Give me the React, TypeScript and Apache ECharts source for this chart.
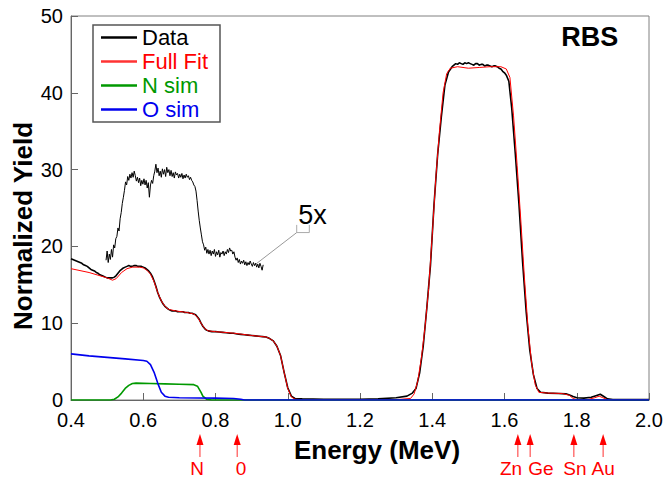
import React, { useEffect, useRef } from 'react';
import * as echarts from 'echarts';

// ---- Data (measured spectrum) ----
const dataE = [0.40,0.405,0.41,0.415,0.42,0.425,0.43,0.435,0.44,0.445,0.45,0.455,0.46,0.465,0.47,0.475,0.48,0.485,0.49,0.495,0.50,0.505,0.51,0.515,0.52,0.525,0.53,0.535,0.54,0.545,0.55,0.555,0.56,0.565,0.57,0.575,0.58,0.585,0.59,0.595,0.60,0.605,0.61,0.615,0.62,0.625,0.63,0.635,0.64,0.645,0.65,0.655,0.66,0.665,0.67,0.675,0.68,0.685,0.69,0.695,0.70,0.705,0.71,0.715,0.72,0.725,0.73,0.735,0.74,0.745,0.75,0.755,0.76,0.765,0.77,0.775,0.78,0.79,0.80,0.81,0.82,0.83,0.84,0.85,0.86,0.87,0.88,0.89,0.90,0.91,0.92,0.93,0.94,0.95,0.96,0.97,0.98,0.99,1.00,1.01,1.02,1.04,1.10,1.20,1.25,1.30,1.33,1.345,1.355,1.365,1.375,1.385,1.395,1.405,1.415,1.425,1.435,1.445,1.455,1.46,1.465,1.47,1.475,1.48,1.485,1.49,1.495,1.50,1.505,1.51,1.515,1.52,1.525,1.53,1.535,1.54,1.545,1.55,1.555,1.56,1.565,1.57,1.575,1.58,1.585,1.59,1.595,1.60,1.605,1.612,1.62,1.63,1.64,1.65,1.66,1.67,1.68,1.69,1.70,1.72,1.75,1.77,1.78,1.79,1.80,1.82,1.84,1.855,1.865,1.875,1.885,1.90,2.00];
const dataY = [18.4,18.3,18.2,18.1,18.0,17.9,17.8,17.6,17.5,17.4,17.2,17.0,16.9,16.8,16.6,16.5,16.3,16.2,16.1,16.0,15.9,15.9,15.9,15.9,16.0,16.2,16.5,16.8,17.0,17.2,17.3,17.4,17.5,17.4,17.4,17.5,17.5,17.4,17.4,17.4,17.3,17.2,17.0,16.8,16.5,16.1,15.5,14.8,14.0,13.4,12.9,12.5,12.2,12.0,11.8,11.7,11.6,11.6,11.6,11.5,11.5,11.5,11.5,11.4,11.4,11.4,11.3,11.3,11.2,11.1,10.8,10.5,10.0,9.6,9.3,9.1,9.0,8.9,8.9,8.85,8.8,8.75,8.7,8.7,8.6,8.55,8.5,8.45,8.4,8.35,8.3,8.25,8.2,8.0,7.7,7.0,5.8,3.6,1.6,0.5,0.2,0.15,0.1,0.1,0.15,0.3,0.5,0.9,1.5,3.5,7.0,12.0,17.5,25.5,32.0,36.8,41.0,42.7,43.4,43.6,43.8,43.7,43.9,43.8,43.7,43.9,43.8,43.9,43.8,43.7,43.6,43.8,43.8,43.6,43.7,43.7,43.5,43.6,43.6,43.5,43.4,43.5,43.5,43.4,43.2,43.1,42.8,42.6,42.3,41.5,38.0,32.0,25.5,18.0,11.5,6.5,3.3,1.5,1.0,0.9,0.85,0.8,0.65,0.45,0.3,0.25,0.35,0.6,0.75,0.45,0.15,0.05,0.05];

// ---- Full Fit ----
const fitE = [0.40,0.45,0.50,0.515,0.525,0.54,0.555,0.57,0.59,0.60,0.61,0.62,0.63,0.64,0.65,0.66,0.67,0.69,0.72,0.74,0.75,0.76,0.77,0.78,0.80,0.85,0.90,0.94,0.95,0.96,0.97,0.98,0.99,1.00,1.01,1.02,1.04,1.30,1.34,1.35,1.36,1.37,1.38,1.39,1.40,1.41,1.42,1.43,1.44,1.45,1.47,1.50,1.53,1.56,1.59,1.605,1.615,1.625,1.635,1.645,1.655,1.665,1.675,1.685,1.695,1.72,1.76,1.78,1.79,1.80,1.83,1.85,1.862,1.872,1.885,2.00];
const fitY = [17.1,16.6,15.9,15.6,15.8,16.6,17.1,17.3,17.3,17.2,16.9,16.4,15.4,14.0,12.9,12.2,11.8,11.6,11.4,11.2,10.8,10.0,9.3,9.0,8.9,8.7,8.4,8.2,8.0,7.7,7.0,5.8,3.6,1.5,0.4,0.1,0.05,0.05,0.2,0.8,2.5,5.5,9.5,14.5,21.5,29.0,35.0,40.0,42.5,43.2,43.4,43.2,43.3,43.4,43.4,43.1,42.0,37.0,30.5,23.5,16.0,9.5,4.8,2.0,1.0,0.9,0.85,0.6,0.2,0.05,0.05,0.3,0.5,0.3,0.05,0.05];

// ---- N sim ----
const nE = [0.40,0.51,0.52,0.53,0.54,0.55,0.56,0.57,0.58,0.62,0.66,0.70,0.74,0.75,0.76,0.765,0.775,0.79,2.00];
const nY = [0,0,0.1,0.4,0.9,1.5,1.9,2.15,2.2,2.15,2.1,2.05,2.0,1.8,1.0,0.5,0.1,0,0];

// ---- O sim ----
const oE = [0.40,0.45,0.50,0.55,0.60,0.61,0.62,0.63,0.64,0.65,0.66,0.67,0.70,0.80,0.85,0.87,0.88,2.00];
const oY = [6.0,5.75,5.55,5.35,5.15,5.05,4.6,3.6,2.2,1.0,0.5,0.35,0.3,0.25,0.2,0.1,0,0];

// ---- 5x magnified inset ----
const insetE = [0.497,0.500,0.503,0.506,0.509,0.512,0.515,0.518,0.521,0.524,0.527,0.530,0.533,0.536,0.539,0.542,0.545,0.548,0.551,0.554,0.557,0.560,0.563,0.566,0.569,0.572,0.575,0.578,0.581,0.584,0.587,0.590,0.593,0.596,0.599,0.602,0.605,0.608,0.611,0.614,0.617,0.620,0.623,0.626,0.629,0.632,0.635,0.638,0.641,0.644,0.647,0.650,0.653,0.656,0.659,0.662,0.665,0.668,0.671,0.674,0.677,0.680,0.683,0.686,0.689,0.692,0.695,0.698,0.701,0.704,0.707,0.710,0.713,0.716,0.719,0.722,0.725,0.728,0.731,0.734,0.737,0.740,0.743,0.746,0.749,0.752,0.755,0.758,0.761,0.764,0.767,0.770,0.773,0.776,0.779,0.782,0.785,0.788,0.791,0.794,0.797,0.800,0.803,0.806,0.809,0.812,0.815,0.818,0.821,0.824,0.827,0.830,0.833,0.836,0.839,0.842,0.845,0.848,0.851,0.854,0.857,0.860,0.863,0.866,0.869,0.872,0.875,0.878,0.881,0.884,0.887,0.890,0.893,0.896,0.899,0.902,0.905,0.908,0.911,0.914,0.917,0.920,0.923,0.926,0.929,0.932];
const insetY = [18.2,19.4,17.9,19.0,18.3,19.6,18.6,20.2,19.8,21.0,21.3,22.4,22.0,23.6,24.4,25.6,26.4,27.3,28.4,28.0,29.1,28.6,29.4,28.9,29.6,29.0,29.8,29.2,28.5,29.0,28.3,28.9,27.9,28.6,28.1,28.8,28.0,28.6,27.6,28.3,26.4,28.0,28.6,28.2,29.2,29.8,30.7,29.6,30.2,29.2,29.8,29.0,30.1,29.4,30.0,29.1,30.3,29.6,30.0,29.2,29.9,29.1,29.6,28.9,29.7,29.3,29.5,28.9,29.4,29.0,29.5,28.8,29.3,28.9,29.4,29.0,29.2,28.7,29.0,28.6,28.4,28.0,27.8,27.2,26.0,24.6,23.4,22.4,21.5,20.6,20.2,19.5,19.9,19.1,19.6,19.0,19.5,18.8,19.4,19.0,19.6,18.7,19.3,18.9,19.5,18.6,19.2,19.0,19.4,18.8,19.3,19.0,19.6,19.2,19.8,19.4,19.5,19.0,19.3,18.6,18.2,18.5,17.9,18.3,17.7,18.1,17.8,18.2,17.6,18.0,17.5,17.9,17.6,18.1,17.7,17.4,17.9,17.5,17.8,17.3,17.7,17.2,17.8,17.4,16.9,17.6];

// ---- Element edge markers ----
const edgeNames = ['N', '0', 'Zn', 'Ge', 'Sn', 'Au'];
const edgeE = [0.757, 0.86, 1.637, 1.671, 1.792, 1.873];
const edgeLabelE = [0.749, 0.871, 1.618, 1.701, 1.795, 1.873];

const xTicks = { min: 0.4, max: 2.0, interval: 0.2 };
const yTicks = { min: 0, max: 50, interval: 10 };

const FONT = '"Liberation Sans", Arial, Helvetica, sans-serif';
const zip = (a: number[], b: number[]) => a.map((v, i) => [v, b[i]]);

export default function App() {
  const ref = useRef<HTMLDivElement>(null);
  useEffect(() => {
    document.body.style.margin = '0';
    const chart = echarts.init(ref.current!, null, { renderer: 'svg' });
    const option: any = {
      animation: false,
      backgroundColor: '#fff',
      grid: { left: 71, right: 19, top: 16, bottom: 80, show: true, borderColor: '#808080', borderWidth: 1, containLabel: false },
      legend: {
        orient: 'vertical', left: 93, top: 25,
        data: [
          { name: 'Data', textStyle: { color: '#000' } },
          { name: 'Full Fit', textStyle: { color: '#ff0000' } },
          { name: 'N sim', textStyle: { color: '#009900' } },
          { name: 'O sim', textStyle: { color: '#0000ee' } },
        ],
        icon: 'rect',
        itemWidth: 36, itemHeight: 2.5, itemGap: 1, itemTextGap: 10,
        padding: [1, 12, 1, 8],
        borderColor: '#555', borderWidth: 1.5, backgroundColor: '#fff',
        textStyle: { fontSize: 22, fontFamily: FONT, lineHeight: 23 },
      },
      xAxis: {
        type: 'value', ...xTicks,
        axisLine: { show: true, lineStyle: { color: '#666' } },
        axisTick: { show: true, inside: true, length: 7, lineStyle: { color: '#666' } },
        axisLabel: { fontSize: 20, lineHeight: 16, fontFamily: FONT, color: '#000', margin: 12, formatter: (v: number) => v.toFixed(1) },
        splitLine: { show: false },
      },
      yAxis: {
        type: 'value', ...yTicks,
        axisLine: { show: true, lineStyle: { color: '#666' } },
        axisTick: { show: true, inside: true, length: 7, lineStyle: { color: '#666' } },
        axisLabel: { fontSize: 20, lineHeight: 16, fontFamily: FONT, color: '#000', margin: 8 },
        splitLine: { show: false },
      },
      series: [
        { name: 'Data', type: 'line', symbol: 'none', data: zip(dataE, dataY), lineStyle: { color: '#000', width: 1.6 }, itemStyle: { color: '#000' }, z: 2 },
        { name: 'Full Fit', type: 'line', symbol: 'none', data: zip(fitE, fitY), lineStyle: { color: '#ff0000', width: 1 }, itemStyle: { color: '#ff3333' }, z: 3 },
        { name: 'N sim', type: 'line', symbol: 'none', data: zip(nE, nY), lineStyle: { color: '#009900', width: 1.6 }, itemStyle: { color: '#009900' }, z: 4 },
        { name: 'O sim', type: 'line', symbol: 'none', data: zip(oE, oY), lineStyle: { color: '#0000ee', width: 1.6 }, itemStyle: { color: '#0000ee' }, z: 5 },
        { name: '5x', type: 'line', symbol: 'none', data: zip(insetE, insetY), lineStyle: { color: '#000', width: 1 }, itemStyle: { color: '#000' }, z: 2 },
      ],
    };
    chart.setOption(option);

    const px = (e: number, v: number) => chart.convertToPixel({ gridIndex: 0 }, [e, v]) as number[];
    const graphics: any[] = [];
    // Axis titles
    graphics.push({ type: 'text', x: 377, y: 450, style: { text: 'Energy (MeV)', font: `bold 26px ${FONT}`, fill: '#000', textAlign: 'center', textVerticalAlign: 'middle' } });
    graphics.push({ type: 'text', x: 23, y: 226, rotation: Math.PI / 2, style: { text: 'Normalized Yield', font: `bold 26px ${FONT}`, fill: '#000', textAlign: 'center', textVerticalAlign: 'middle' } });
    // RBS title
    const rbs = px(1.836, 47.3);
    graphics.push({ type: 'text', x: rbs[0], y: rbs[1], style: { text: 'RBS', font: `bold 27px ${FONT}`, fill: '#000', textAlign: 'center', textVerticalAlign: 'middle' } });
    // 5x annotation
    const lblPos = px(1.0685, 24.1);
    graphics.push({ type: 'text', x: lblPos[0], y: lblPos[1], style: { text: '5x', font: `27px ${FONT}`, fill: '#000', textAlign: 'center', textVerticalAlign: 'middle' } });
    const boxL = px(1.0248, 22.8), boxR = px(1.0597, 21.8);
    const tail = px(0.909, 17.6);
    graphics.push({ type: 'polyline', shape: { points: [[boxL[0], boxL[1]], [boxL[0], boxR[1]], [boxR[0], boxR[1]], [boxR[0], boxL[1]]] }, style: { stroke: '#aaa', lineWidth: 1, fill: null } });
    graphics.push({ type: 'line', shape: { x1: boxL[0], y1: boxR[1], x2: tail[0], y2: tail[1] }, style: { stroke: '#999', lineWidth: 1 } });
    // Element arrows
    edgeE.forEach((e, i) => {
      const x = px(e, 0)[0];
      const lx = px(edgeLabelE[i], 0)[0];
      graphics.push({ type: 'line', shape: { x1: x, y1: 444, x2: x, y2: 457 }, style: { stroke: '#ff3030', lineWidth: 1 } });
      graphics.push({ type: 'polygon', shape: { points: [[x, 434], [x - 3.5, 445], [x + 3.5, 445]] }, style: { fill: '#ff0000' } });
      graphics.push({ type: 'text', x: lx, y: 468, style: { text: edgeNames[i], font: `19px ${FONT}`, lineHeight: 16, fill: '#ff0000', textAlign: 'center', textVerticalAlign: 'middle' } });
    });
    chart.setOption({ graphic: graphics });
    return () => chart.dispose();
  }, []);
  return <div ref={ref} style={{ width: 668, height: 480 }} />;
}
